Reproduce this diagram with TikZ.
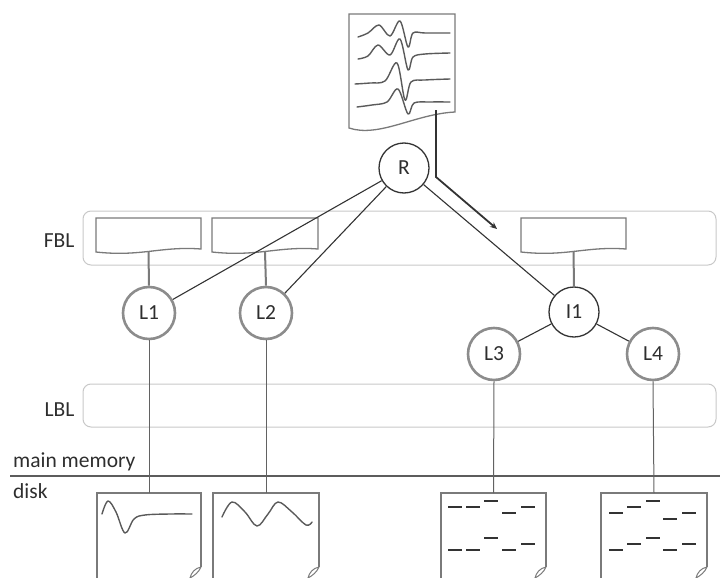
\documentclass[tikz,border=0pt]{standalone}
\usepackage{fontspec}
\setmainfont{Carlito}
\usetikzlibrary{calc,arrows.meta}

\definecolor{ink}{HTML}{333333}
\definecolor{txt}{HTML}{2E2E2E}
\definecolor{leafgray}{HTML}{8C8C8C}
\definecolor{framegray}{HTML}{C8C8C8}
\definecolor{pagegray}{HTML}{7A7A7A}
\definecolor{tracegray}{HTML}{5A5A5A}

\tikzset{
  every node/.style={text=txt, font=\fontsize{21.5}{24}\selectfont},
  layerbox/.style={draw=framegray, line width=1pt, rounded corners=8pt},
  inode/.style={circle, draw=ink, line width=1.3pt, fill=white, minimum size=50pt, inner sep=0pt},
  lnode/.style={circle, draw=leafgray, line width=2.6pt, fill=white, minimum size=52pt, inner sep=0pt},
  tedge/.style={draw=ink, line width=1.1pt},
  stub/.style={draw=pagegray, line width=2pt},
  drop/.style={draw=pagegray!80!black, line width=1pt},
  page/.style={draw=pagegray, line width=1.3pt},
  slot/.style={inner sep=0pt, outer sep=0pt},
  trace/.style={draw=tracegray, line width=1.4pt, line join=round, line cap=round},
  bar/.style={draw=ink, line width=1.4pt},
  sep/.style={draw=ink!80, line width=2.6pt},
  flow/.style={draw=ink, line width=1.8pt, -{Stealth[length=7pt,width=6pt]}},
}

\begin{document}
\begin{tikzpicture}[x=1pt,y=-1pt]
\useasboundingbox (0,0) rectangle (720,578);

% ---------- buffer layers ----------
\node[layerbox, slot, minimum width=633pt, minimum height=54pt] (fbl) at (399.5,238) {};
\node[layerbox, slot, minimum width=633pt, minimum height=43pt] (lbl) at (399.5,405.5) {};
\node[anchor=base east] (fbllab) at (78,247) {FBL};
\node[anchor=base east] (lbllab) at (78,416) {LBL};

% ---------- memory / disk boundary ----------
\coordinate (sepL) at (10,476);
\coordinate (sepR) at (720,476);
\draw[sep] (sepL) -- (sepR);
\node[anchor=base west, inner sep=0pt] (mm) at (13,467) {main memory};
\node[anchor=base west, inner sep=0pt] (dk) at (13,498) {disk};

% ---------- incoming data page ----------
\node[slot, minimum width=106pt, minimum height=119pt] (td) at (402,73.5) {};
\draw[page, fill=white] (td.north west) -- (td.north east)
  -- ($(td.south east)+(0,-21)$) .. controls +(-40,2) and +(30,10) .. ($(td.south west)+(0,-5)$)
  -- cycle;
\draw[trace] plot[smooth, tension=0.55] coordinates {(358,37) (368,33) (379,25) (390,36) (400,21) (408,47) (413,33) (425,33) (450,33)};
\draw[trace] plot[smooth, tension=0.55] coordinates {(358,59) (368,56) (378,45) (390,55) (400,39) (408,70) (413,57) (425,54) (450,53)};
\draw[trace] plot[smooth, tension=0.55] coordinates {(355,84) (370,83) (385,81) (397,63) (405,100) (411,82) (425,80) (450,79)};
\draw[trace] plot[smooth, tension=0.55] coordinates {(357,107) (372,105) (387,102) (398,89) (408,114) (414,103) (430,102) (450,102)};

% ---------- frame buffers in FBL ----------
\node[slot, minimum width=105pt, minimum height=36pt] (fb1) at (148.5,236) {};
\node[slot, minimum width=106pt, minimum height=36pt] (fb2) at (265,236) {};
\node[slot, minimum width=105pt, minimum height=36pt] (fb3) at (573.5,236) {};
\foreach \b in {fb1,fb2,fb3}{
  \draw[page, fill=white] (\b.north west) -- (\b.north east)
    -- ($(\b.south east)+(0,-5)$) .. controls +(-40,-3) and +(45,5) .. ($(\b.south west)+(0,-2)$)
    -- cycle;
}

% ---------- tree nodes ----------
\node[inode] (R)  at (404,168) {R};
\node[inode] (I1) at (574,312) {I1};
\node[lnode] (L1) at (149,313) {L1};
\node[lnode] (L2) at (266,313) {L2};
\node[lnode] (L3) at (494,354) {L3};
\node[lnode] (L4) at (653,354) {L4};

% ---------- disk pages ----------
\node[slot, minimum width=104pt, minimum height=85pt] (d1) at (149,535.5) {};
\node[slot, minimum width=106pt, minimum height=85pt] (d2) at (266,535.5) {};
\node[slot, minimum width=105pt, minimum height=85pt] (d3) at (493.5,535.5) {};
\node[slot, minimum width=106pt, minimum height=85pt] (d4) at (654,535.5) {};
\foreach \d in {d1,d2,d3,d4}{
  \draw[page] (\d.south west) -- (\d.north west) -- (\d.north east)
    -- ($(\d.north east)+(0,74)$);
  % curled corner
  \draw[page, line width=1pt] ($(\d.north east)+(0,74)$) .. controls +(-6,1) and +(1,-5) .. ($(\d.south east)+(-11,0)$)
    .. controls +(4,-2) and +(-2,5) .. ($(\d.north east)+(0,74)$);
}

% page contents
\draw[trace] plot[smooth, tension=0.6] coordinates {(102,514) (108,501) (116,512) (125,533) (134,519) (145,515) (170,514) (192,514)};
\draw[trace] plot[smooth, tension=0.6] coordinates {(222,517) (232,502) (245,512) (257,526) (268,514) (278,502) (292,512) (306,525) (312,522)};
\foreach \x/\y in {448/507, 466/507, 484/501, 502/513, 521/507,
                   484/538, 448/550, 466/550, 502/550, 521/544,
                   609/513, 627/507, 646/501, 663/519, 682/513,
                   646/538, 627/544, 609/550, 663/550, 682/544}{
  \draw[bar] (\x,\y) -- ++(14,0);
}

% ---------- tree edges ----------
\draw[tedge] (R) -- (L1);
\draw[tedge] (R) -- (L2);
\draw[tedge] (R) -- (I1);
\draw[tedge] (I1) -- (L3);
\draw[tedge] (I1) -- (L4);

% buffers attached to their tree nodes
\draw[stub] ($(fb1.south)+(0,-2)$) -- (L1.north);
\draw[stub] ($(fb2.south)+(0,-2)$) -- (L2.north);
\draw[stub] ($(fb3.south)+(0,-3)$) -- (I1.north);

% leaves to disk pages
\draw[drop] (L1.south) -- (d1.north);
\draw[drop] (L2.south) -- (d2.north);
\draw[drop] (L3.south) -- (d3.north);
\draw[drop] (L4.south) -- (d4.north);

% insertion path of the incoming page
\coordinate (a0) at (436,110);
\coordinate (a1) at (436,177);
\coordinate (a2) at (497,229);
\draw[flow] (a0) -- (a1) -- (a2);
\end{tikzpicture}
\end{document}
